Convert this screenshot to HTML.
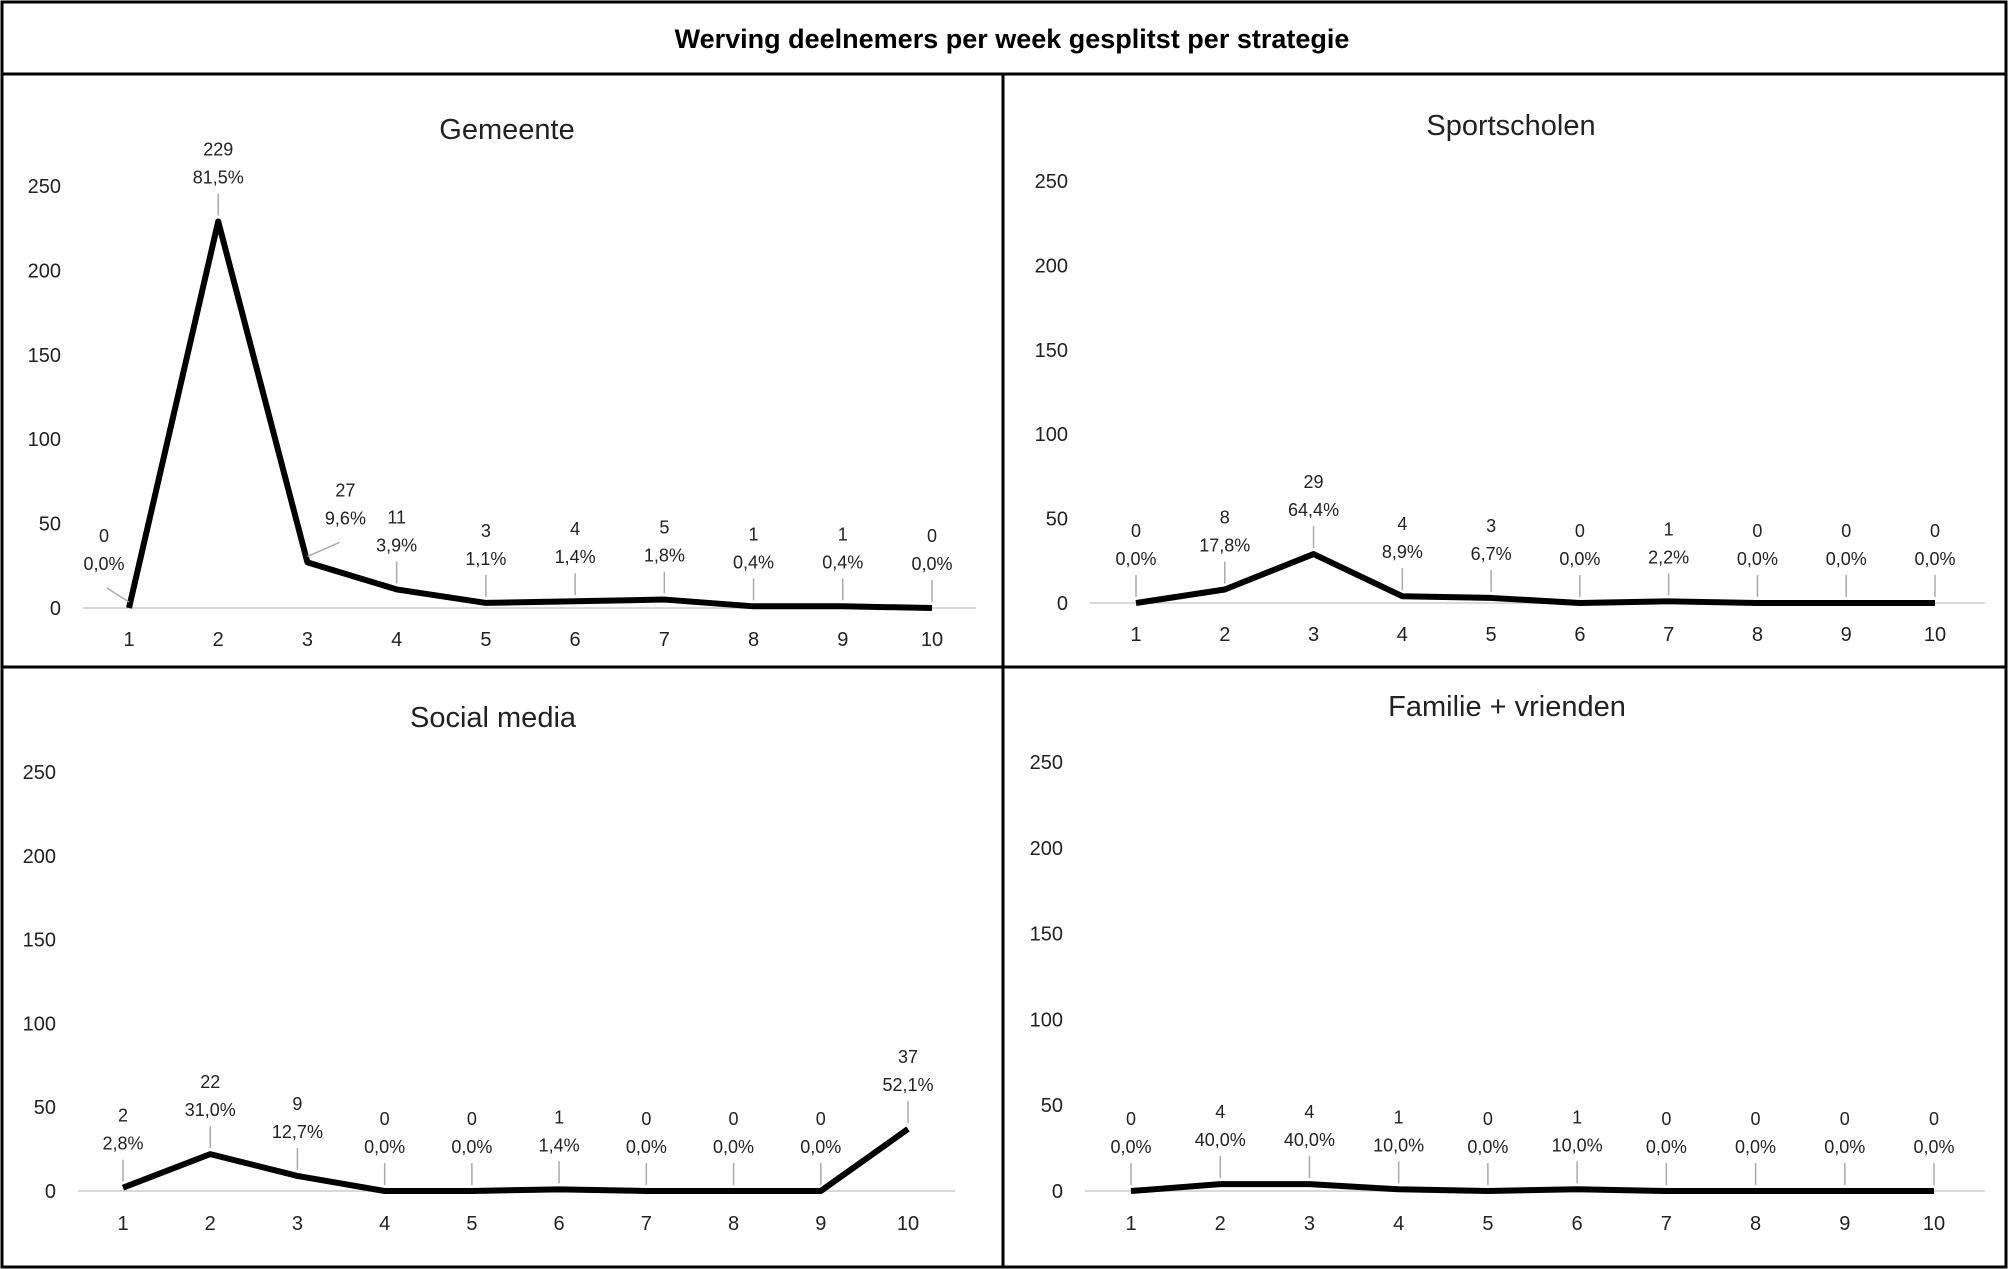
<!DOCTYPE html>
<html><head><meta charset="utf-8">
<style>
body{margin:0;background:#fff;}
svg{display:block;font-family:"Liberation Sans",sans-serif;}
</style></head>
<body>
<svg id="chart" width="2008" height="1269" viewBox="0 0 2008 1269">
<rect x="2" y="2" width="2004" height="1265" fill="#fff" stroke="#000" stroke-width="3"/>
<line x1="2" y1="74" x2="2006" y2="74" stroke="#000" stroke-width="3"/>
<line x1="1003" y1="74" x2="1003" y2="1267" stroke="#000" stroke-width="3"/>
<line x1="2" y1="667" x2="2006" y2="667" stroke="#000" stroke-width="3"/>
<text x="1012" y="48" text-anchor="middle" font-size="27" font-weight="bold">Werving deelnemers per week gesplitst per strategie</text>
</svg>
<script>
const weeks = [1,2,3,4,5,6,7,8,9,10];
const yTicks = [0,50,100,150,200,250];
const panelTitles = ["Gemeente","Sportscholen","Social media","Familie + vrienden"];
const gemeenteValues = [0,229,27,11,3,4,5,1,1,0];
const gemeentePct = ["0,0%","81,5%","9,6%","3,9%","1,1%","1,4%","1,8%","0,4%","0,4%","0,0%"];
const sportValues = [0,8,29,4,3,0,1,0,0,0];
const sportPct = ["0,0%","17,8%","64,4%","8,9%","6,7%","0,0%","2,2%","0,0%","0,0%","0,0%"];
const socialValues = [2,22,9,0,0,1,0,0,0,37];
const socialPct = ["2,8%","31,0%","12,7%","0,0%","0,0%","1,4%","0,0%","0,0%","0,0%","52,1%"];
const familieValues = [0,4,4,1,0,1,0,0,0,0];
const familiePct = ["0,0%","40,0%","40,0%","10,0%","0,0%","10,0%","0,0%","0,0%","0,0%","0,0%"];

const NS = "http://www.w3.org/2000/svg";
const svg = document.getElementById('chart');
function mk(tag, attrs, parent){const e=document.createElementNS(NS,tag);for(const k in attrs)e.setAttribute(k,attrs[k]);parent.appendChild(e);return e;}

const panels = [
 {slug:"gemeente", values:gemeenteValues, pct:gemeentePct, title:panelTitles[0], x1:129, x10:932, y0:608, y250:186, tx:507, ty:139, lblR:61, axL:83, axR:976, xl:646},
 {slug:"sportscholen", values:sportValues, pct:sportPct, title:panelTitles[1], x1:1136, x10:1935, y0:603, y250:181, tx:1511, ty:135, lblR:1068, axL:1090, axR:1985, xl:641},
 {slug:"social-media", values:socialValues, pct:socialPct, title:panelTitles[2], x1:123, x10:908, y0:1191, y250:772, tx:493, ty:727, lblR:56, axL:78, axR:955, xl:1230},
 {slug:"familie-vrienden", values:familieValues, pct:familiePct, title:panelTitles[3], x1:1131, x10:1934, y0:1191, y250:762, tx:1507, ty:716, lblR:1063, axL:1085, axR:1985, xl:1230}
];

panels.forEach(p=>{
  const g = mk('g',{},svg);
  
  
  const xs = w => p.x1 + (w-1)*(p.x10-p.x1)/9;
  const ys = v => p.y0 - v*(p.y0-p.y250)/250;
  const t = mk('text',{x:p.tx,y:p.ty,'text-anchor':'middle','font-size':29,fill:'#222'},g);
  t.textContent = p.title;
  
  
  yTicks.forEach(v=>{
    const l = mk('text',{x:p.lblR,y:ys(v)+7,'text-anchor':'end','font-size':20,fill:'#222'},g);
    l.textContent = v;
    
    
  });
  const ax = mk('line',{x1:p.axL,y1:p.y0,x2:p.axR,y2:p.y0,stroke:'#d9d9d9','stroke-width':2},g);
  
  
  weeks.forEach(w=>{
    const l = mk('text',{x:xs(w),y:p.xl,'text-anchor':'middle','font-size':20,fill:'#222'},g);
    l.textContent = w;
    
    
  });
  const pts = p.values.map((v,i)=>xs(weeks[i])+','+ys(v)).join(' ');
  const line = mk('polyline',{points:pts,fill:'none',stroke:'#000','stroke-width':6,'stroke-linejoin':'round'},g);
  
  
  p.values.forEach((v,i)=>{
    const x = xs(weeks[i]), y = ys(v);
    let dx = 0, lx2 = x, ly2 = y-28;
    if (p.slug==="gemeente" && i===2) { dx = 38; lx2 = x+32; ly2 = y-20; }
    if (p.slug==="gemeente" && i===0) { dx = -25; lx2 = x-22; ly2 = y-20; }
    const ld = mk('line',{x1:x,y1:y-6,x2:lx2,y2:ly2,stroke:'#aaa','stroke-width':1.5},g);
    
    
    const a = mk('text',{x:x+dx,y:y-66,'text-anchor':'middle','font-size':18,fill:'#222'},g);
    a.textContent = v;
    
    
    const b = mk('text',{x:x+dx,y:y-38,'text-anchor':'middle','font-size':18,fill:'#222'},g);
    b.textContent = p.pct[i];
    
    
  });
});
</script>
</body></html>
